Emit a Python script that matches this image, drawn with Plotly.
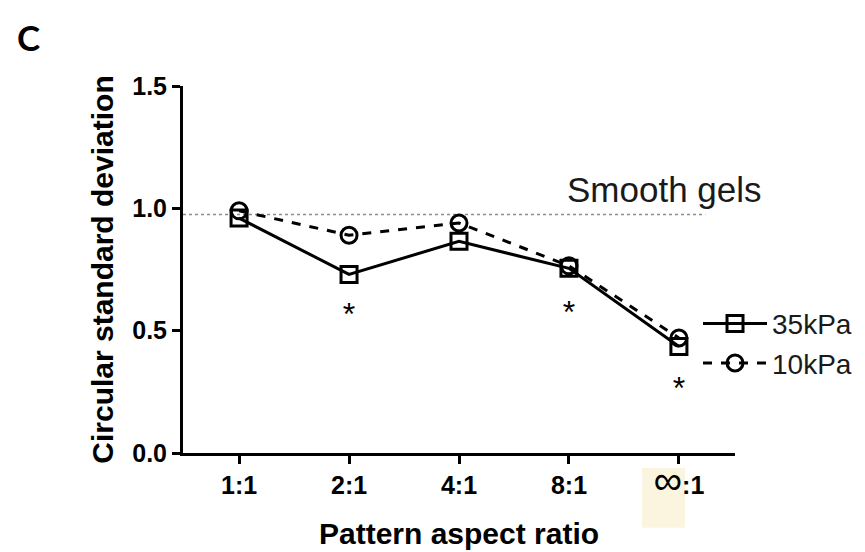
import plotly.graph_objects as go

categories = ["1:1", "2:1", "4:1", "8:1", "∞:1"]
tick_labels = ["1:1", "2:1", "4:1", "8:1", "<span style='font-size:40px;font-weight:normal'>∞</span>:1"]
kpa35 = [0.96, 0.73, 0.865, 0.755, 0.435]
kpa10 = [0.99, 0.89, 0.94, 0.765, 0.47]
star_y = [None, 0.555, None, 0.565, 0.255]
smooth_level = 0.975

FONT = "Liberation Sans, Arial, sans-serif"
xs = list(range(len(categories)))

fig = go.Figure()
fig.add_trace(go.Scatter(
    x=xs, y=kpa35, name="35kPa", mode="lines+markers",
    line=dict(color="black", width=3),
    marker=dict(symbol="square-open", size=16, color="black", line=dict(width=3)),
))
fig.add_trace(go.Scatter(
    x=xs, y=kpa10, name="10kPa", mode="lines+markers",
    line=dict(color="black", width=3, dash="dash"),
    marker=dict(symbol="circle-open", size=16, color="black", line=dict(width=3)),
))
fig.add_trace(go.Scatter(
    x=xs, y=star_y, mode="text", text=["*" if v is not None else "" for v in star_y],
    textfont=dict(family=FONT, size=32, color="black"), showlegend=False, hoverinfo="skip",
))

# Smooth gels reference line
fig.add_shape(type="line", xref="x", yref="y", x0=-0.51, x1=4.24, y0=smooth_level, y1=smooth_level,
              line=dict(color="#8a8a8a", width=1.5, dash="dot"), layer="below")
fig.add_annotation(x=3.87, y=smooth_level, xref="x", yref="y", yshift=25, text="Smooth gels",
                   showarrow=False, font=dict(family=FONT, size=35, color="#1a1a1a"))

# pale highlight behind infinity tick label
fig.add_shape(type="rect", xref="x", yref="paper", x0=3.664, x1=4.055, y0=-0.204, y1=-0.041,
              fillcolor="#fbf5df", line=dict(width=0), layer="below")

fig.add_annotation(x=-0.279, y=1.134, xref="paper", yref="paper", text="C", showarrow=False,
                   xanchor="center", yanchor="middle",
                   font=dict(family="Lato, sans-serif", size=35, color="black", weight="bold"))

fig.update_layout(
    width=865, height=552,
    margin=dict(l=183, r=130, t=86, b=99, autoexpand=False),
    plot_bgcolor="white", paper_bgcolor="white",
    font=dict(family=FONT, color="black"),
    showlegend=True,
    legend=dict(x=0.933, y=0.42, xanchor="left", yanchor="top", bgcolor="rgba(0,0,0,0)",
                font=dict(family=FONT, size=28, color="#1a1a1a"), itemwidth=64,
                tracegroupgap=0),
    xaxis=dict(range=[-0.51, 4.51], tickvals=xs, ticktext=tick_labels,
               showline=True, linecolor="black", linewidth=3, ticks="outside", ticklen=8,
               tickwidth=3, tickcolor="black", showgrid=False, zeroline=False,
               tickfont=dict(family=FONT, size=25, color="black", weight="bold"),
               title=dict(text="<b>Pattern aspect ratio</b>", font=dict(family=FONT, size=30), standoff=22)),
    yaxis=dict(range=[0, 1.5], tickvals=[0, 0.5, 1.0, 1.5], ticktext=["0.0", "0.5", "1.0", "1.5"],
               showline=True, linecolor="black", linewidth=3, ticks="outside", ticklen=8,
               tickwidth=3, tickcolor="black", showgrid=False, zeroline=False,
               tickfont=dict(family=FONT, size=25, color="black", weight="bold"),
               title=dict(text="<b>Circular standard deviation</b>", font=dict(family=FONT, size=30), standoff=10)),
)

fig.write_html("out.html")
